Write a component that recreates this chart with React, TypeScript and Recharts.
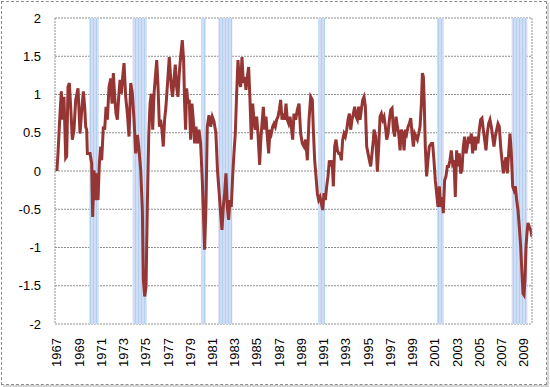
import React from "react";
import { LineChart, Line, XAxis, YAxis, CartesianGrid, ReferenceArea } from "recharts";

const dates: number[] = [
  1967.0, 1967.1, 1967.28, 1967.4, 1967.52, 1967.64, 1967.79, 1967.88, 1968.0, 1968.12, 1968.24, 1968.39, 1968.54, 1968.69, 1968.9,
  1969.08, 1969.26, 1969.38, 1969.5, 1969.59, 1969.68, 1969.74, 1969.98, 1970.13, 1970.22, 1970.34, 1970.46, 1970.58, 1970.7, 1970.82,
  1970.94, 1971.03, 1971.18, 1971.3, 1971.42, 1971.54, 1971.69, 1971.84, 1971.96, 1972.08, 1972.2, 1972.32, 1972.44, 1972.56, 1972.68,
  1972.8, 1972.92, 1973.04, 1973.19, 1973.34, 1973.49, 1973.64, 1973.79, 1973.94,
  1974.09, 1974.24, 1974.36, 1974.54, 1974.69, 1974.78, 1974.9, 1975.02, 1975.14, 1975.26, 1975.38, 1975.5, 1975.62, 1975.74, 1975.86,
  1975.98, 1976.1, 1976.22, 1976.33, 1976.45, 1976.57, 1976.69, 1976.81, 1976.93, 1977.11, 1977.29, 1977.41, 1977.53, 1977.65, 1977.77,
  1977.89, 1978.01, 1978.13, 1978.28, 1978.4, 1978.49, 1978.58, 1978.67, 1978.79, 1978.91, 1979.03, 1979.15, 1979.27, 1979.39, 1979.51,
  1979.63, 1979.78, 1979.93, 1980.08, 1980.29, 1980.41, 1980.53, 1980.68, 1980.83, 1980.98, 1981.13, 1981.3,
  1981.45, 1981.58, 1981.73, 1981.85, 1981.97, 1982.09, 1982.21, 1982.33, 1982.45, 1982.57, 1982.69, 1982.81, 1982.93, 1983.05, 1983.17,
  1983.29, 1983.41, 1983.53, 1983.65, 1983.77, 1983.89, 1984.01, 1984.13, 1984.25, 1984.37, 1984.49, 1984.61, 1984.73, 1984.85, 1984.97,
  1985.09, 1985.24, 1985.36, 1985.48, 1985.57, 1985.69, 1985.81, 1985.93, 1986.05, 1986.17, 1986.29, 1986.41, 1986.53, 1986.65, 1986.77,
  1986.89, 1987.01, 1987.13, 1987.25, 1987.37, 1987.49, 1987.61, 1987.73, 1987.85, 1987.97, 1988.09, 1988.21,
  1988.33, 1988.48, 1988.63, 1988.78, 1988.93, 1989.08, 1989.23, 1989.38, 1989.53, 1989.68, 1989.83, 1989.98, 1990.07, 1990.19, 1990.31,
  1990.43, 1990.55, 1990.67, 1990.79, 1990.91, 1991.03, 1991.15, 1991.27, 1991.39, 1991.51, 1991.63, 1991.75, 1991.87, 1991.99, 1992.11,
  1992.23, 1992.35, 1992.47, 1992.59, 1992.71, 1992.83, 1992.95, 1993.07, 1993.19, 1993.31, 1993.43, 1993.55, 1993.67, 1993.79, 1993.91,
  1994.03, 1994.15, 1994.27, 1994.39, 1994.51, 1994.63, 1994.75, 1994.87, 1994.99, 1995.11, 1995.23, 1995.35, 1995.47,
  1995.53, 1995.68, 1995.83, 1995.95, 1996.07, 1996.19, 1996.31, 1996.43, 1996.55, 1996.67, 1996.79, 1996.91, 1997.03, 1997.15, 1997.27,
  1997.39, 1997.51, 1997.63, 1997.75, 1997.87, 1997.99, 1998.11, 1998.23, 1998.35, 1998.47, 1998.59, 1998.71, 1998.83, 1998.95, 1999.07,
  1999.19, 1999.31, 1999.43, 1999.55, 1999.67, 1999.79, 1999.88, 1999.97, 2000.05, 2000.14, 2000.26, 2000.38, 2000.5, 2000.68, 2000.8,
  2000.92, 2001.04, 2001.16, 2001.28, 2001.4, 2001.52, 2001.64, 2001.76, 2001.88, 2002.0, 2002.12, 2002.24, 2002.36, 2002.48, 2002.6,
  2002.72, 2002.84, 2002.96, 2003.08, 2003.2, 2003.32, 2003.44, 2003.56, 2003.68, 2003.8, 2003.92, 2004.04, 2004.16, 2004.28, 2004.4,
  2004.52, 2004.64, 2004.76, 2004.88, 2005.0, 2005.12, 2005.24, 2005.36, 2005.48, 2005.6, 2005.72, 2005.84, 2005.96, 2006.08, 2006.2,
  2006.32, 2006.44, 2006.56, 2006.68, 2006.8, 2006.92, 2007.04, 2007.16, 2007.28, 2007.4, 2007.52, 2007.64, 2007.76, 2007.88, 2008.0,
  2008.12, 2008.24, 2008.36, 2008.48, 2008.6, 2008.72, 2008.84, 2008.93, 2009.02, 2009.11, 2009.2, 2009.29, 2009.38, 2009.5, 2009.62,
  2009.74,
];

const values: number[] = [
  0, 0.23, 0.75, 1.04, 0.67, 0.97, 0.17, 0.19, 1.1, 1.15, 0.84, 0.41, 0.54, 0.93, 1.08,
  0.49, 0.84, 1.04, 0.84, 0.58, 0.54, 0.23, 0.23, 0.1, -0.6, 0.01, -0.38, -0.03, -0.38, 0.1,
  0.32, 0.14, 0.58, 0.54, 0.84, 0.67, 1.1, 1.21, 0.88, 1.28, 0.97, 0.75, 0.67, 0.97, 1.19,
  1.01, 1.23, 1.41, 0.97, 0.75, 0.45, 1.15, 1.01, 0.67,
  0.23, 0.47, 0.32, 0.01, -0.51, -1.42, -1.64, -1.51, -0.42, 0.45, 0.88, 1.01, 0.54, 1.01, 1.23,
  1.45, 1.1, 0.58, 0.67, 0.54, 0.32, 0.67, 0.84, 1.1, 1.49, 1.1, 0.97, 1.19, 1.39, 1.1,
  0.97, 1.28, 1.49, 1.71, 1.45, 0.88, 0.54, 1.08, 0.88, 0.93, 0.41, 0.88, 0.67, 0.36, 0.58,
  0.36, 0.54, 0.36, -0.12, -1.03, -0.47, 0.58, 0.73, 0.58, 0.71, 0.65, 0.5,
  0.0, -0.25, -0.55, -0.77, -0.47, -0.29, -0.03, -0.47, -0.64, -0.38, -0.47, -0.07, 0.23, 0.49, 1.01,
  1.45, 1.19, 1.1, 1.49, 1.15, 1.23, 1.06, 1.23, 1.36, 0.93, 0.41, 0.88, 0.67, 0.54, 0.71,
  0.49, 0.08, 0.45, 0.67, 0.84, 0.54, 0.71, 0.45, 0.23, 0.54, 0.49, 0.58, 0.62, 0.58, 0.67,
  0.71, 0.8, 0.93, 0.67, 0.75, 0.67, 0.88, 0.67, 0.62, 0.71, 0.58, 0.41,
  0.75, 0.67, 0.8, 0.88, 0.49, 0.36, 0.32, 0.41, 0.14, 0.67, 0.97, 0.93, 0.54, 0.14, -0.07,
  -0.29, -0.38, -0.34, -0.42, -0.51, -0.29, -0.38, -0.2, -0.07, 0.14, 0.06, 0.14, -0.2, 0.32, 0.41,
  0.27, 0.23, 0.23, 0.14, 0.41, 0.49, 0.45, 0.54, 0.67, 0.75, 0.54, 0.67, 0.75, 0.84, 0.71,
  0.67, 0.84, 0.67, 0.8, 0.93, 0.97, 0.84, 0.32, 0.23, 0.14, 0.06, 0.23, 0.41,
  0.54, 0.45, -0.01, 0.32, 0.71, 0.75, 0.67, 0.71, 0.58, 0.41, 0.49, 0.67, 0.8, 0.82, 0.54,
  0.45, 0.71, 0.58, 0.49, 0.27, 0.54, 0.49, 0.27, 0.54, 0.49, 0.58, 0.62, 0.69, 0.49, 0.32,
  0.49, 0.45, 0.41, 0.49, 0.58, 0.88, 1.28, 1.23, 0.88, 0.32, -0.07, 0.14, 0.32, 0.36, 0.36,
  0.14, -0.12, -0.29, -0.47, -0.2, -0.47, -0.34, -0.55, -0.12, -0.07, 0.06, 0.06, 0.14, 0.27, 0.1,
  0.14, -0.34, 0.27, 0.06, 0.23, -0.03, 0.01, 0.32, 0.45, 0.23, 0.32, 0.45, 0.36, 0.49, 0.23,
  0.45, 0.27, 0.45, 0.36, 0.54, 0.67, 0.69, 0.54, 0.41, 0.27, 0.49, 0.62, 0.67, 0.58, 0.45,
  0.32, 0.45, 0.54, 0.62, 0.58, 0.32, 0.14, -0.03, 0.1, 0.18, -0.03, 0.23, 0.49, 0.23, -0.2,
  -0.25, -0.2, -0.38, -0.51, -0.73, -0.99, -1.34, -1.6, -1.62, -1.42, -0.99, -0.81, -0.68, -0.73, -0.77,
  -0.86,
];

const recessionStart: number[] = [1969.91, 1973.82, 1979.99, 1981.52, 1990.52, 2001.19, 2007.91];
const recessionEnd: number[] = [1970.76, 1975.08, 1980.39, 1982.78, 1991.12, 2001.8, 2009.32];

const yearTicks: number[] = [1967, 1969, 1971, 1973, 1975, 1977, 1979, 1981, 1983, 1985, 1987, 1989, 1991, 1993, 1995, 1997, 1999, 2001, 2003, 2005, 2007, 2009];
const valueTicks: number[] = [-2, -1.5, -1, -0.5, 0, 0.5, 1, 1.5, 2];

const data = dates.map((d, i) => ({ t: d, v: values[i] }));

const FONT = "'Liberation Sans', Arial, sans-serif";

const XTick = (props: any) => {
  const { x, y, payload } = props;
  const yy = y + 6;
  return (
    <text
      x={x}
      y={yy}
      transform={`rotate(-90 ${x} ${yy})`}
      textAnchor="end"
      dominantBaseline="central"
      fontSize={13}
      fontFamily={FONT}
      fill="#000"
    >
      {payload.value}
    </text>
  );
};

export default function App() {
  return (
    <div style={{ position: "absolute", left: 0, top: 0, width: 550, height: 387, background: "#fff" }}>
      <div
        style={{
          position: "absolute",
          left: 1,
          top: 1,
          width: 546,
          height: 384,
          boxSizing: "border-box",
          border: "1px dashed #8c8c8c",
          boxShadow: "2px 2px 0 #d4d4d4",
        }}
      />
      <div style={{ position: "absolute", left: 0, top: 0 }}>
        <LineChart width={550} height={387} data={data} margin={{ top: 18, right: 0, left: 0, bottom: 0 }}>
          <defs>
            <pattern id="recStripes" width="3" height="4" patternUnits="userSpaceOnUse">
              <rect x="0" y="0" width="3" height="4" fill="#d2dcf4" />
              <rect x="0" y="0" width="1" height="4" fill="#b0d2ee" />
            </pattern>
          </defs>
          <CartesianGrid vertical={false} stroke="#8f8f8f" strokeDasharray="2 1" />
          <XAxis
            dataKey="t"
            type="number"
            domain={[1966.83, 2009.74]}
            allowDataOverflow
            ticks={yearTicks}
            interval={0}
            height={63}
            axisLine={false}
            tickLine={false}
            tick={<XTick />}
          />
          <YAxis
            domain={[-2, 2]}
            ticks={valueTicks}
            interval={0}
            width={55}
            tickLine={false}
            tickSize={6}
            tickMargin={8}
            axisLine={{ stroke: "#8f8f8f", strokeDasharray: "2 1" }}
            tick={{ fontSize: 13, fontFamily: FONT, fill: "#000" }}
          />
          <YAxis
            yAxisId="r"
            orientation="right"
            domain={[-2, 2]}
            width={18}
            tick={false}
            tickLine={false}
            axisLine={{ stroke: "#8f8f8f", strokeDasharray: "2 1" }}
          />
          {recessionStart.map((s, i) => (
            <ReferenceArea
              key={i}
              x1={s}
              x2={recessionEnd[i]}
              y1={-2}
              y2={2}
              fill="url(#recStripes)"
              fillOpacity={1}
              stroke="none"
            />
          ))}
          <Line
            type="linear"
            dataKey="v"
            stroke="#963634"
            strokeWidth={3}
            dot={false}
            isAnimationActive={false}
          />
        </LineChart>
      </div>
    </div>
  );
}
